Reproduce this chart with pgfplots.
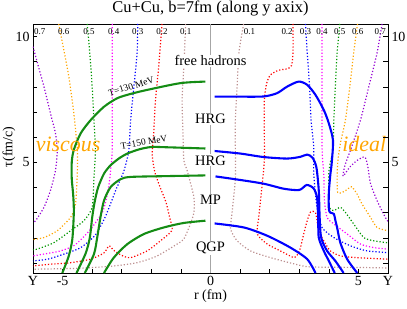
\documentclass[border=0pt]{standalone}
\usepackage{pgfplots}
\pgfplotsset{compat=1.18}
\usepackage{fontspec}
\setmainfont{Liberation Serif}
\definecolor{sgreen}{RGB}{20,140,20}
\definecolor{sblue}{RGB}{0,0,255}
\definecolor{cviolet}{RGB}{148,0,211}
\definecolor{corange}{RGB}{255,165,0}
\definecolor{cgreen}{RGB}{0,150,0}
\definecolor{cmagenta}{RGB}{255,0,255}
\definecolor{cblue}{RGB}{0,0,255}
\definecolor{cred}{RGB}{255,0,0}
\definecolor{crosy}{RGB}{188,143,143}
\newcommand{\fs}[1]{\fontsize{#1}{#1}\selectfont}
\begin{document}
\begin{tikzpicture}
\path[use as bounding box] (-33bp,-36bp) rectangle (374bp,273bp);
\begin{axis}[
  at={(0,0)}, anchor=south west,
  scale only axis, width=355bp, height=249bp,
  xmin=-6, xmax=6, ymin=0.6, ymax=10.5,
  xtick={-6,...,6}, xticklabels={Y,-5,,,,,0,,,,,5,Y},
  ytick={1,...,10}, yticklabels={,,,,5,,,,,10},
  xtick pos=bottom, ytick pos=left,
  tick align=inside, major tick length=4.5bp,
  tick style={black, line width=0.5pt},
  axis line style={black, line width=0.6pt},
  /pgf/number format/assume math mode=true,
  tick label style={font=\fs{14}},
  xlabel={r (fm)}, ylabel={τ(fm/c)},
  label style={font=\fs{14}},
  xlabel style={yshift=3bp},
  ylabel style={at={(axis description cs:-0.068,0.506)}, anchor=center},
  title={Cu+Cu, b=7fm (along y axix)},
  title style={font=\fs{16.5}, yshift=-2bp},
  clip mode=individual,
  every axis plot/.append style={line join=round},
]
% vertical gray line at r=0
\addplot[gray!70, line width=1pt] coordinates {(0,0.6) (0,10.5)};

% ---------- dotted contours, left (viscous) ----------
\pgfplotsset{dotc/.style={line width=1.2pt, dash pattern=on 1.2pt off 2pt, smooth, tension=0.4}}
\addplot[dotc, cviolet] coordinates {(-6.0,9.6) (-5.85,8.95) (-5.63,8.01) (-5.41,6.95) (-5.24,6.15) (-5.18,5.48) (-5.24,4.68) (-5.41,3.88) (-5.63,3.21) (-5.91,2.68) (-6.0,2.6)};
\addplot[dotc, corange] coordinates {(-5.13,10.5) (-4.96,9.48) (-4.79,8.41) (-4.62,6.95) (-4.50,5.48) (-4.5,4.68) (-4.56,3.35) (-4.73,2.81) (-5.18,2.28) (-5.63,2.01) (-6.0,1.93)};
\addplot[dotc, cgreen] coordinates {(-4.17,10.5) (-4.08,9.35) (-4.0,8.01) (-3.94,6.68) (-3.89,5.48) (-3.94,4.35) (-4.0,3.21) (-4.28,2.68) (-4.73,2.28) (-5.29,1.81) (-5.86,1.55) (-6.0,1.52)};
\addplot[dotc, cmagenta] coordinates {(-3.32,10.5) (-3.32,5.7) (-3.36,4.9) (-3.42,4.2) (-3.52,3.55) (-3.66,3.0) (-4.08,2.3) (-4.6,1.7) (-5.1,1.47) (-5.5,1.38) (-6.0,1.28)};
\addplot[dotc, cblue] coordinates {(-2.46,10.5) (-2.48,9.35) (-2.59,8.01) (-2.70,6.68) (-2.76,5.48) (-2.93,4.65) (-3.2,3.9) (-3.55,2.85) (-3.9,2.1) (-4.4,1.6) (-4.96,1.35) (-5.5,1.15) (-6.0,1.08)};
\addplot[dotc, cred] coordinates {(-1.64,10.5) (-1.75,8.81) (-1.86,7.48) (-1.92,6.15) (-1.97,5.3) (-1.88,4.6) (-1.70,4.0) (-1.50,3.4) (-1.38,2.8) (-1.3,2.3) (-1.69,1.88) (-2.14,1.48) (-2.70,1.21) (-3.0,1.3) (-3.27,1.5) (-3.43,1.68) (-3.6,1.4) (-4.05,1.15) (-4.73,1.01) (-5.41,0.95) (-6.0,0.88)};
\addplot[dotc, crosy] coordinates {(-0.84,10.5) (-0.90,8.81) (-0.96,7.5) (-0.93,6.15) (-0.90,5.08) (-0.79,4.68) (-0.56,3.61) (-0.56,3.01) (-0.68,2.55) (-0.90,1.95) (-1.13,1.75) (-1.80,1.28) (-2.48,1.01) (-3.27,0.88) (-4.39,0.79) (-6.0,0.75)};

% ---------- dotted contours, right (ideal) ----------
\addplot[dotc, cviolet] coordinates {(5.8,10.5) (5.63,9.35) (5.35,8.0) (5.07,6.68) (4.73,5.48) (4.55,4.9) (4.48,4.45) (4.7,4.8) (4.96,5.08) (5.22,5.21) (5.32,4.81) (5.41,4.15) (5.63,3.48) (5.91,2.81) (6.0,2.65)};
\addplot[dotc, corange] coordinates {(4.97,10.5) (4.84,9.35) (4.71,8.01) (4.56,6.68) (4.39,5.75) (4.3,5.0) (4.28,4.3) (4.3,3.8) (4.45,3.8) (4.62,3.92) (4.77,4.03) (4.95,3.75) (5.12,3.35) (5.41,2.81) (5.63,2.41) (6.0,2.28)};
\addplot[dotc, cgreen] coordinates {(4.37,10.5) (4.28,9.35) (4.22,8.01) (4.17,6.68) (4.14,5.48) (4.05,5.0) (4.0,4.55) (4.0,3.4) (4.05,3.15) (4.17,3.08) (4.39,3.21) (4.56,3.01) (4.84,2.55) (5.18,2.01) (5.52,1.88) (6.0,1.8)};
\addplot[dotc, cmagenta] coordinates {(3.77,10.5) (3.77,5.7) (3.83,4.55) (3.85,3.5) (3.94,2.81) (4.17,2.55) (4.62,2.15) (5.07,1.75) (5.52,1.61) (6.0,1.55)};
\addplot[dotc, cblue] coordinates {(3.21,10.5) (3.27,9.35) (3.35,8.01) (3.40,6.68) (3.49,5.61) (3.49,4.55) (3.6,3.21) (3.77,2.41) (4.17,2.01) (4.73,1.68) (5.29,1.48) (6.0,1.41)};
\addplot[dotc, cred] coordinates {(2.79,10.5) (2.79,9.35) (2.74,8.85) (2.60,8.72) (2.3,8.66) (2.03,8.48) (1.9,8.15) (1.82,7.48) (1.82,6.15) (1.82,5.08) (1.75,4.15) (1.63,2.81) (1.58,2.15) (1.92,1.75) (2.36,1.48) (2.82,1.21) (2.95,1.35) (3.04,1.6) (3.15,2.15) (3.27,2.68) (3.38,3.02) (3.55,3.0) (3.66,2.28) (3.83,1.88) (4.05,1.48) (4.39,1.28) (4.96,1.21) (6.0,1.15)};
\addplot[dotc, crosy] coordinates {(1.12,10.5) (0.96,9.35) (0.90,8.01) (0.84,6.68) (0.84,5.61) (0.84,4.35) (0.73,3.01) (0.68,2.35) (0.90,1.88) (1.35,1.48) (2.03,1.21) (2.70,1.0) (3.27,0.85) (4.0,0.83) (5.0,0.82) (6.0,0.8)};

% ---------- viscous isotherms (green) ----------
\pgfplotsset{solc/.style={line width=2.1pt, smooth, tension=0.45}}
\addplot[solc, sgreen] coordinates {(-5.01,0.6) (-4.79,1.28) (-4.67,1.95) (-4.62,3.01) (-4.64,3.68) (-4.69,4.35) (-4.69,5.01) (-4.62,5.5) (-4.39,6.15) (-4.05,6.68) (-3.60,7.21) (-3.15,7.55) (-2.70,7.72) (-2.14,7.88) (-1.01,8.15) (-0.17,8.21)};
\addplot[solc, sgreen] coordinates {(-4.53,0.6) (-4.22,1.38) (-4.08,2.0) (-4.0,2.8) (-3.92,3.4) (-3.8,4.0) (-3.6,4.55) (-3.38,4.88) (-3.1,5.15) (-2.81,5.35) (-2.4,5.52) (-2.0,5.61) (-1.5,5.6) (-0.17,5.55)};
\addplot[solc, sgreen] coordinates {(-4.25,0.6) (-3.94,1.35) (-3.83,2.01) (-3.72,2.81) (-3.6,3.48) (-3.38,4.01) (-3.04,4.33) (-2.70,4.42) (-1.58,4.45) (-0.17,4.48)};
\addplot[solc, sgreen] coordinates {(-3.6,0.6) (-3.27,1.21) (-2.81,1.75) (-2.25,2.15) (-1.58,2.41) (-0.9,2.59) (-0.17,2.68)};

% ---------- ideal isotherms (blue) ----------
\addplot[solc, sblue] coordinates {(0.14,7.61) (1.0,7.61) (1.80,7.62) (2.25,7.75) (2.59,8.01) (2.98,8.21) (3.27,8.08) (3.55,7.68) (3.83,7.08) (4.0,6.55) (4.14,5.88) (4.1,5.0) (4.05,4.5) (4.0,3.8) (4.0,3.15) (4.05,3.0) (4.17,2.95) (4.22,2.7) (4.28,2.41) (4.39,1.8) (4.62,1.15) (4.96,0.6)};
\addplot[solc, sblue] coordinates {(0.14,5.45) (1.0,5.35) (1.80,5.21) (2.59,5.15) (3.04,5.22) (3.27,5.31) (3.45,5.18) (3.58,4.8) (3.66,3.88) (3.69,2.81) (3.74,2.01) (3.94,1.48) (4.22,1.08) (4.5,0.6)};
\addplot[solc, sblue] coordinates {(0.17,4.44) (1.0,4.3) (1.80,4.15) (2.48,3.95) (3.0,3.9) (3.25,4.1) (3.48,3.97) (3.6,3.61) (3.64,2.81) (3.66,2.01) (3.83,1.48) (4.0,1.08) (4.2,0.6)};
\addplot[solc, sblue] coordinates {(0.14,2.57) (1.13,2.41) (1.92,2.08) (2.70,1.61) (3.27,1.15) (3.55,0.6)};

% ---------- text ----------
\node[font=\fs{14.5}, fill=white, inner sep=1bp] at (axis cs:0,9.04) {free hadrons};
\node[font=\fs{14.5}, fill=white, inner sep=1bp] at (axis cs:0,6.72) {HRG};
\node[font=\fs{14.5}, fill=white, inner sep=1bp] at (axis cs:0,5.08) {HRG};
\node[font=\fs{14.5}, fill=white, inner sep=1bp] at (axis cs:0,3.52) {MP};
\node[font=\fs{14.5}, fill=white, inner sep=1bp] at (axis cs:0,1.58) {QGP};
\node[font=\fs{22}\itshape, text=corange, anchor=base west, inner sep=0pt] at (axis cs:-5.91,5.44) {viscous};
\node[font=\fs{22}\itshape, text=corange, anchor=base west, inner sep=0pt] at (axis cs:4.45,5.44) {ideal};
\node[font=\fs{9.5}, rotate=17, inner sep=0pt] at (axis cs:-2.68,8.02) {T=130 MeV};
\node[font=\fs{9.5}, rotate=10, inner sep=0pt] at (axis cs:-2.25,5.8) {T=150 MeV};
\foreach \xx/\lab in {-5.77/0.7,-4.96/0.6,-4.11/0.5,-3.27/0.4,-2.46/0.3,-1.64/0.2,-0.84/0.1,1.32/0.1,2.59/0.2,3.21/0.3,3.77/0.4,4.37/0.5,4.98/0.6,5.74/0.7}{
  \edef\tmp{\noexpand\node[font=\noexpand\fs{9}, inner sep=0pt] at (axis cs:\xx,10.2) {\lab};}\tmp
}
\end{axis}
\begin{axis}[
  at={(0,0)}, anchor=south west,
  scale only axis, width=355bp, height=249bp,
  xmin=-6, xmax=6, ymin=0.6, ymax=10.5,
  hide x axis, axis y line*=right,
  ytick={1,...,10}, yticklabels={,,,,5,,,,,10},
  tick align=inside, major tick length=4.5bp,
  tick style={black, line width=0.5pt},
  axis line style={black, line width=0.6pt},
  /pgf/number format/assume math mode=true,
  tick label style={font=\fs{14}},
]
\addplot[draw=none] coordinates {(0,1) (1,2)};
\end{axis}
\end{tikzpicture}
\end{document}
